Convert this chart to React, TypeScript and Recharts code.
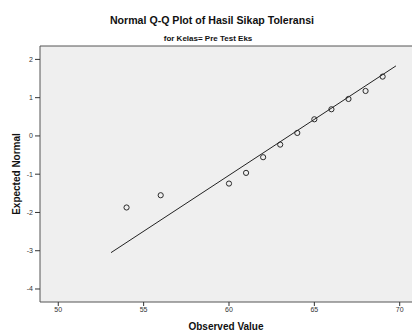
import React from 'react';
import { ComposedChart, Scatter, XAxis, YAxis, CartesianGrid, ReferenceLine, Label } from 'recharts';

const observed = [54, 56, 60, 61, 62, 63, 64, 65, 66, 67, 68, 69];
const expectedNormal = [-1.87, -1.55, -1.245, -0.966, -0.556, -0.227, 0.078, 0.435, 0.697, 0.966, 1.175, 1.55];
const fitLineX = [53.09, 69.78];
const fitLineY = [-3.05, 1.83];
const xTicks = [50, 55, 60, 65, 70];
const yTicks = [-4, -3, -2, -1, 0, 1, 2];

const points = observed.map((x, i) => ({ x, y: expectedNormal[i] }));
const fitLine = fitLineX.map((x, i) => ({ x, y: fitLineY[i] }));

const FONT = '"Liberation Sans", Arial, sans-serif';

const Ring = (props: any) => {
  const { cx, cy } = props;
  if (cx == null || cy == null) return null;
  return <circle cx={cx} cy={cy} r={2.6} fill="none" stroke="#2a2a2a" strokeWidth={1} />;
};

export default function App() {
  return (
    <div style={{ position: 'absolute', left: 0, top: 0, width: 412, height: 331, background: '#fff', fontFamily: FONT }}>
      <div style={{ position: 'absolute', left: 0, width: 424, top: 14, textAlign: 'center', fontWeight: 'bold', fontSize: 10.6, color: '#111' }}>
        Normal Q-Q Plot of Hasil Sikap Toleransi
      </div>
      <div style={{ position: 'absolute', left: 0, width: 416, top: 34, textAlign: 'center', fontWeight: 'bold', fontSize: 8, color: '#111' }}>
        for Kelas= Pre Test Eks
      </div>
      <ComposedChart width={412} height={331} margin={{ top: 46, right: 0, bottom: 0, left: 0 }}>
        <CartesianGrid horizontal={false} vertical={false} fill="#efefef" stroke="none" />
        <XAxis
          type="number"
          dataKey="x"
          domain={[48.93, 70.72]}
          ticks={xTicks}
          allowDataOverflow
          height={29}
          tickSize={4}
          tickMargin={1}
          tick={{ fontSize: 7, fill: '#333', fontFamily: FONT }}
          axisLine={{ stroke: '#555' }}
          tickLine={{ stroke: '#333' }}
        >
          <Label value="Observed Value" position="insideBottom" offset={1} style={{ fontSize: 10, fontWeight: 'bold', fill: '#111', fontFamily: FONT }} />
        </XAxis>
        <YAxis
          type="number"
          dataKey="y"
          domain={[-4.34, 2.35]}
          ticks={yTicks}
          allowDataOverflow
          width={40}
          tickSize={5}
          tickMargin={2}
          tick={{ fontSize: 7, fill: '#333', fontFamily: FONT }}
          axisLine={{ stroke: '#555' }}
          tickLine={{ stroke: '#333' }}
        >
          <Label value="Expected Normal" angle={-90} position="insideLeft" offset={16} style={{ fontSize: 10, fontWeight: 'bold', fill: '#111', fontFamily: FONT, textAnchor: 'middle' }} />
        </YAxis>
        <ReferenceLine y={2.35} stroke="#555" />
        <Scatter data={fitLine} line={{ stroke: '#222', strokeWidth: 1 }} shape={() => null} isAnimationActive={false} />
        <Scatter data={points} shape={<Ring />} isAnimationActive={false} />
      </ComposedChart>
    </div>
  );
}
